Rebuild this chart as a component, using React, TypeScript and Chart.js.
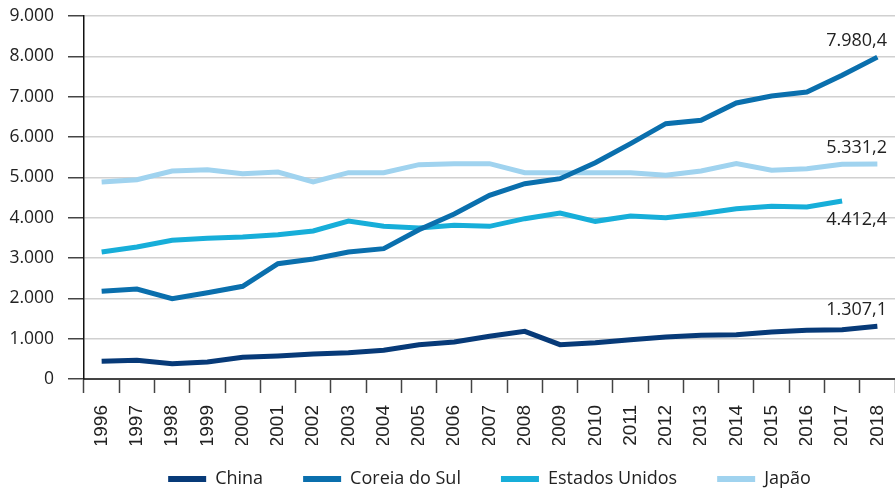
import React, { useEffect, useRef } from "react";
import { Chart, registerables } from "chart.js";

Chart.register(...registerables);

const years = ["1996","1997","1998","1999","2000","2001","2002","2003","2004","2005","2006","2007","2008","2009","2010","2011","2012","2013","2014","2015","2016","2017","2018"];
const china = [438, 463, 380, 421, 537, 570, 620, 653, 711, 851, 917, 1058, 1182, 851, 901, 975, 1041, 1083, 1099, 1165, 1207, 1223, 1307.1];
const coreia = [2174, 2231, 1992, 2140, 2298, 2860, 2975, 3149, 3231, 3700, 4090, 4554, 4843, 4967, 5364, 5835, 6331, 6413, 6843, 7017, 7116, 7529, 7980.4];
const eua = [3149, 3273, 3438, 3488, 3521, 3579, 3669, 3917, 3785, 3744, 3810, 3785, 3975, 4116, 3909, 4041, 4000, 4099, 4223, 4281, 4264, 4412.4, null];
const japao = [4884, 4942, 5157, 5190, 5091, 5132, 4884, 5116, 5116, 5314, 5339, 5339, 5116, 5116, 5116, 5116, 5050, 5157, 5339, 5174, 5215, 5322, 5331.2];
const seriesNames = ["China", "Coreia do Sul", "Estados Unidos", "Japão"];
const seriesColors = ["#073a78", "#0a6fad", "#17aed9", "#a0d3ef"];
const yTicks = [0, 1000, 2000, 3000, 4000, 5000, 6000, 7000, 8000, 9000];

function fmt(v: number, dec: number): string {
  const fixed = v.toFixed(dec);
  const [intPart, decPart] = fixed.split(".");
  const withDots = intPart.replace(/\B(?=(\d{3})+(?!\d))/g, ".");
  return decPart ? withDots + "," + decPart : withDots;
}

const endLabels = {
  id: "endLabels",
  afterDatasetsDraw(chart: any) {
    const ctx = chart.ctx;
    ctx.save();
    ctx.font = "18px 'Open Sans'";
    ctx.fillStyle = "#222";
    ctx.textAlign = "right";
    ctx.textBaseline = "middle";
    chart.data.datasets.forEach((ds: any, i: number) => {
      let idx = ds.data.length - 1;
      while (idx >= 0 && ds.data[idx] == null) idx--;
      const meta = chart.getDatasetMeta(i);
      const pt = meta.data[idx];
      if (!pt) return;
      const below = i === 2;
      const y = below ? pt.y + 19 : pt.y - 16;
      ctx.fillText(fmt(ds.data[idx], 1), 887, y);
    });
    ctx.restore();
  },
};

const customLegend = {
  id: "customLegend",
  afterDraw(chart: any) {
    const ctx = chart.ctx;
    const area = chart.chartArea;
    const boxW = 38, boxH = 6, gapText = 9, gapItem = 40;
    ctx.save();
    ctx.font = "18px 'Open Sans'";
    ctx.textBaseline = "middle";
    ctx.textAlign = "left";
    const items = chart.data.datasets.map((ds: any) => ({
      text: ds.label,
      color: ds.borderColor,
      w: boxW + gapText + ctx.measureText(ds.label).width,
    }));
    const total = items.reduce((s: number, it: any) => s + it.w, 0) + gapItem * (items.length - 1);
    let x = (area.left + area.right) / 2 - total / 2;
    const y = area.bottom + 100;
    items.forEach((it: any) => {
      ctx.fillStyle = it.color;
      ctx.fillRect(x, y - boxH / 2, boxW, boxH);
      ctx.fillStyle = "#222";
      ctx.fillText(it.text, x + boxW + gapText, y);
      x += it.w + gapItem;
    });
    ctx.restore();
  },
};

export default function App() {
  const ref = useRef<HTMLCanvasElement>(null);
  useEffect(() => {
    document.body.style.margin = "0";
    const data = [china, coreia, eua, japao];
    const chart = new Chart(ref.current!, {
      type: "line",
      data: {
        labels: years,
        datasets: data.map((d, i) => ({
          label: seriesNames[i],
          data: d,
          borderColor: seriesColors[i],
          backgroundColor: seriesColors[i],
          borderWidth: 5,
          pointRadius: 0,
          tension: 0,
          fill: false,
        })),
      },
      options: {
        responsive: false,
        animation: false,
        layout: { padding: { top: 16, right: 0, left: 0, bottom: 47 } },
        plugins: {
          legend: { display: false },
          tooltip: { enabled: false },
        },
        scales: {
          x: {
            offset: true,
            grid: { offset: true, drawOnChartArea: false, drawTicks: true, tickLength: 14, tickColor: "#444", tickWidth: 1.5 },
            border: { color: "#444", width: 2 },
            ticks: {
              minRotation: 90,
              maxRotation: 90,
              padding: 12,
              color: "#222",
              font: { family: "'Liberation Sans', Arial, sans-serif", size: 19 },
            },
            afterFit(scale: any) {
              scale.height = 66;
              scale.paddingLeft = 0;
              scale.paddingRight = 0;
            },
          },
          y: {
            min: 0,
            max: 9000,
            afterBuildTicks(scale: any) { scale.ticks = yTicks.map((v) => ({ value: v })); },
            grid: { color: "#d0d0d0", lineWidth: 1.5, tickLength: 16, tickColor: "#444" },
            border: { color: "#111", width: 1.5 },
            ticks: {
              padding: 14,
              color: "#222",
              font: { family: "'Open Sans', sans-serif", size: 17.5 },
              callback: (v: any) => fmt(Number(v), 0),
            },
            afterFit(scale: any) {
              scale.width = 84;
              scale.paddingTop = 0;
              scale.paddingBottom = 0;
            },
          },
        },
      },
      plugins: [endLabels, customLegend],
    });
    return () => chart.destroy();
  }, []);
  return <canvas ref={ref} width={895} height={492} style={{ display: "block" }} />;
}
